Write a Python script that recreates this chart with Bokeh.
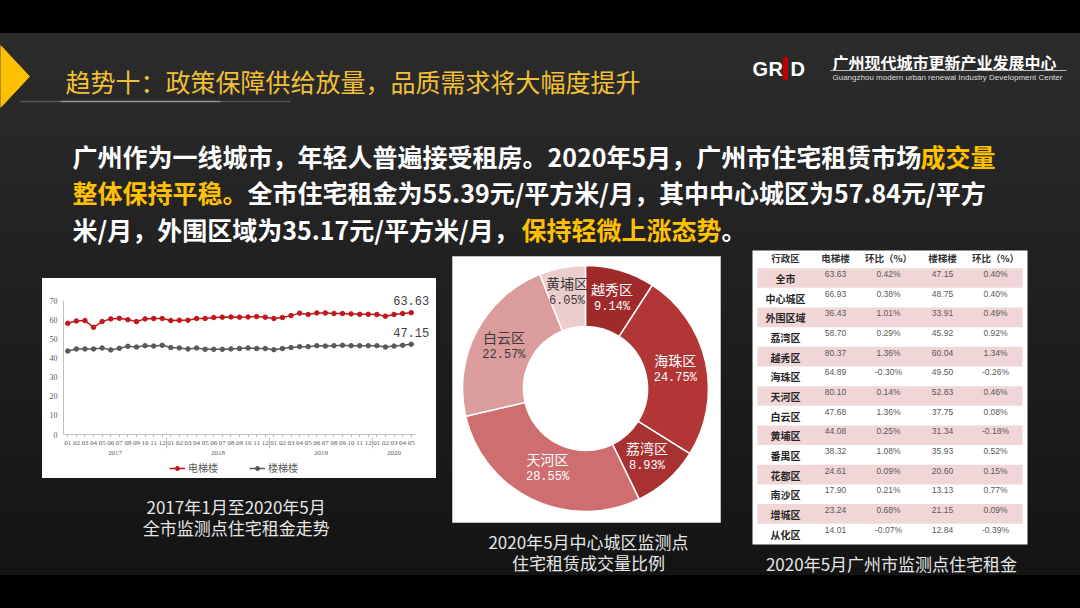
import math
from bokeh.plotting import figure
from bokeh.models import (Range1d, FactorRange, ColumnDataSource, FixedTicker,
                          Legend, LegendItem)
from bokeh.layouts import column, row
from bokeh.core.properties import value
from bokeh.embed import file_html
from bokeh.resources import INLINE

CJK = "Noto Sans CJK SC"

# ---------------- data ----------------
title = "趋势十：政策保障供给放量，品质需求将大幅度提升"
logo_cn = "广州现代城市更新产业发展中心"
logo_en = "Guangzhou modern urban renewal Industry Development Center"

para_segments = [
    ("广州作为一线城市，年轻人普遍接受租房。2020年5月，广州市住宅租赁市场", False),
    ("成交量", True),
    ("整体保持平稳。", True),
    ("全市住宅租金为55.39元/平方米/月，其中中心城区为57.84元/平方", False),
    ("米/月，外围区域为35.17元/平方米/月，", False),
    ("保持轻微上涨态势", True),
    ("。", False),
]

years = ["2017", "2018", "2019", "2020"]
months_per_year = [12, 12, 12, 5]
month_labels = ["01", "02", "03", "04", "05", "06", "07", "08", "09", "10", "11", "12"]
elevator = [58.1, 59.3, 59.5, 56.0, 59.0, 60.4, 60.7, 60.0, 59.0, 60.4, 60.6, 60.6,
            59.5, 59.7, 59.7, 60.6, 60.6, 61.1, 61.3, 61.4, 61.3, 61.4, 61.6, 61.3,
            60.6, 61.1, 62.1, 63.4, 62.7, 63.5, 63.5, 63.2, 63.2, 63.0, 62.8, 62.8,
            62.7, 61.8, 62.7, 63.2, 63.63]
stairs = [43.6, 44.7, 44.7, 44.7, 45.2, 44.2, 45.0, 46.1, 45.7, 46.4, 46.2, 46.6,
          45.4, 45.2, 44.7, 45.2, 44.5, 44.5, 44.5, 44.7, 44.9, 45.2, 44.9, 44.9,
          44.3, 44.9, 45.4, 45.9, 45.9, 46.4, 46.2, 46.4, 46.6, 46.4, 46.4, 46.4,
          46.4, 45.7, 46.2, 46.6, 47.15]
y_ticks = [0, 10, 20, 30, 40, 50, 60, 70]
series_names = ["电梯楼", "楼梯楼"]
line_caption = ["2017年1月至2020年5月", "全市监测点住宅租金走势"]

donut_names = ["越秀区", "海珠区", "荔湾区", "天河区", "白云区", "黄埔区"]
donut_shares = [9.14, 24.75, 8.93, 28.55, 22.57, 6.05]
donut_caption = ["2020年5月中心城区监测点", "住宅租赁成交量比例"]

table_header = ["行政区", "电梯楼", "环比（%）", "楼梯楼", "环比（%）"]
districts = ["全市", "中心城区", "外围区域", "荔湾区", "越秀区", "海珠区", "天河区",
             "白云区", "黄埔区", "番禺区", "花都区", "南沙区", "增城区", "从化区"]
elev_price = [63.63, 66.93, 36.43, 58.70, 80.37, 64.89, 80.10, 47.68, 44.08, 38.32,
              24.61, 17.90, 23.24, 14.01]
elev_mom = [0.42, 0.38, 1.01, 0.29, 1.36, -0.30, 0.14, 1.36, 0.25, 1.08, 0.09, 0.21,
            0.68, -0.07]
stair_price = [47.15, 48.75, 33.91, 45.92, 60.04, 49.50, 52.83, 37.75, 31.34, 35.93,
               20.60, 13.13, 21.15, 12.84]
stair_mom = [0.40, 0.40, 0.49, 0.92, 1.34, -0.26, 0.46, 0.08, -0.18, 0.52, 0.15, 0.77,
             0.09, -0.39]
table_caption = "2020年5月广州市监测点住宅租金"

# ---------------- styles ----------------
YELLOW = "#FFC000"
GOLD = "#F2C037"
RED = "#C0161C"
GREY = "#595959"
donut_colors = ["#9E2A2B", "#B23636", "#A83232", "#CF6E70", "#DA9C9D", "#EBCDCD"]
donut_label_colors = ["white", "white", "white", "white", "#3a3a3a", "#3a3a3a"]
donut_label_radius = [94, 92, 92, 88, 92, 98]
PINK = "#F0D6D7"


def screen_fig(w, h, xr, yr):
    p = figure(width=w, height=h, x_range=Range1d(*xr), y_range=Range1d(*yr),
               output_backend="svg", toolbar_location=None, min_border=0,
               x_axis_location=None, y_axis_location=None)
    p.grid.visible = False
    p.outline_line_color = None
    p.background_fill_color = None
    p.border_fill_color = None
    return p


def txt(p, x, y, s, size, color, align="left", baseline="middle", font=CJK,
        style="normal", alpha=1.0, angle=0.0):
    src = ColumnDataSource(dict(x=[x], y=[y], t=[s]))
    p.text(x="x", y="y", text="t", source=src, text_font=value(font),
           text_font_size=f"{size}px", text_color=color, text_align=align,
           text_baseline=baseline, text_font_style=style, text_alpha=alpha,
           angle=angle)


# ---------------- header ----------------
H = screen_fig(1080, 250, (0, 1080), (250, 0))
H.patch([0, 29, 0], [45, 76, 107], color=YELLOW)
txt(H, 65, 80, title, 25, GOLD)
H.segment(x0=[20, 60, 130, 220], y0=[101] * 4, x1=[60, 130, 220, 290], y1=[101] * 4,
          line_color="#b0b0b0", line_width=1.5, line_alpha=[0.35, 0.8, 0.8, 0.3])

# logo
txt(H, 752, 68, "G", 20, "white", font="Liberation Sans", style="bold")
txt(H, 768, 68, "R", 20, "white", font="Liberation Sans", style="bold")
H.quad(left=[783], right=[787], top=[57], bottom=[79], color="#C00000")
txt(H, 790, 68, "D", 20, "white", font="Liberation Sans", style="bold")
txt(H, 832, 61, logo_cn, 16, "white", style="bold")
H.line([830, 1066], [70, 70], line_color="#bbbbbb", line_width=1)
txt(H, 832, 77, logo_en, 8, "#dddddd", font="Liberation Sans")

# paragraph
para_pos = [(72, 155), (920, 155), (72, 191), (247, 191), (72, 228), (521, 228), (721, 228)]
for (s, hl), (x, y) in zip(para_segments, para_pos):
    txt(H, x, y, s, 25, YELLOW if hl else "white", style="bold")

# ---------------- line chart ----------------
factors = [(y, m) for y, n in zip(years, months_per_year) for m in month_labels[:n]]
xr = FactorRange(factors=factors, factor_padding=0, group_padding=0,
                 subgroup_padding=0, range_padding=0)
L1 = figure(width=394, height=182, x_range=xr, y_range=Range1d(0, 70),
            output_backend="svg", toolbar_location=None,
            min_border_left=21, min_border_right=21, min_border_top=22,
            min_border_bottom=26, margin=(28, 9, 0, 42))
L1.border_fill_color = None
L1.background_fill_color = None
L1.outline_line_color = None
L1.grid.visible = False

lsrc = ColumnDataSource(dict(x=factors, e=elevator, s=stairs))
r1 = L1.line("x", "e", source=lsrc, line_color=RED, line_width=1.5)
r1m = L1.scatter("x", "e", source=lsrc, size=4.5, color=RED)
r2 = L1.line("x", "s", source=lsrc, line_color=GREY, line_width=1.5)
r2m = L1.scatter("x", "s", source=lsrc, size=4.5, color=GREY)

lab_src = ColumnDataSource(dict(x=[factors[-1], factors[-1]],
                                y=[elevator[-1], stairs[-1]],
                                t=[f"{elevator[-1]:.2f}", f"{stairs[-1]:.2f}"]))
L1.text(x="x", y="y", text="t", source=lab_src, y_offset=-12, text_align="center",
        text_baseline="middle", text_font=value("Liberation Mono"),
        text_font_size="12px", text_color="#404040", level="overlay")

ya = L1.yaxis[0]
ya.ticker = FixedTicker(ticks=y_ticks)
ya.major_label_text_font_size = "8px"
ya.major_label_text_font = "Liberation Serif"
ya.major_label_text_color = GREY
ya.major_tick_out = 0
ya.major_tick_in = 0
ya.minor_tick_out = 0
ya.minor_tick_in = 0
ya.major_label_standoff = 6
ya.axis_line_color = "#BFBFBF"

xa = L1.xaxis[0]
xa.major_label_text_font_size = "7px"
xa.major_label_text_font = "Liberation Serif"
xa.major_label_text_color = GREY
xa.group_text_font_size = "7px"
xa.group_text_font = "Liberation Serif"
xa.group_text_font_style = "normal"
xa.group_text_color = GREY
xa.axis_line_color = "#BFBFBF"
xa.major_tick_line_color = "#BFBFBF"
xa.major_tick_in = 0
xa.major_tick_out = 3
xa.major_label_standoff = 3
xa.separator_line_color = "#BFBFBF"
xa.separator_line_width = 1

# caption panel below the chart (legend of the chart + caption)
Lc = screen_fig(445, 148, (0, 445), (0, 148))


def ly_(v):
    return 608 - v


# legend proxies (kept outside the visible range; they only give the legend its keys)
k1 = Lc.line(x=[-100, -90], y=[-100, -100], line_color=RED, line_width=1.5)
k1m = Lc.scatter(x=[-100], y=[-100], size=4.5, color=RED)
k2 = Lc.line(x=[-100, -90], y=[-100, -100], line_color=GREY, line_width=1.5)
k2m = Lc.scatter(x=[-100], y=[-100], size=4.5, color=GREY)
legend = Legend(items=[LegendItem(label=series_names[0], renderers=[k1, k1m]),
                       LegendItem(label=series_names[1], renderers=[k2, k2m])],
                orientation="horizontal", location=(148, ly_(475)),
                border_line_color=None, background_fill_alpha=0,
                label_text_font=CJK, label_text_font_size="10px",
                label_text_color=GREY, glyph_width=16, glyph_height=10,
                spacing=31, padding=0, margin=0, label_standoff=3,
                label_height=10)
Lc.add_layout(legend)
txt(Lc, 237, ly_(506), line_caption[0], 17, "#E6E6E6", align="center")
txt(Lc, 237, ly_(527), line_caption[1], 17, "#E6E6E6", align="center")

# ---------------- right part: donut + table ----------------
R = screen_fig(635, 358, (445, 1080), (0, 358))


def ry(v):
    return 608 - v


# donut box
R.rect(x=[586], y=[ry(389)], width=268, height=266, fill_color="white",
       line_color="#BFBFBF", line_width=1)
cx, cy = 585, ry(388)
r_in, r_out = 62, 123
starts, ends, lx, ly = [], [], [], []
cum = 0.0
for s, rl in zip(donut_shares, donut_label_radius):
    a0 = math.pi / 2 - 2 * math.pi * (cum + s) / 100
    a1 = math.pi / 2 - 2 * math.pi * cum / 100
    starts.append(a0)
    ends.append(a1)
    mid = (a0 + a1) / 2
    lx.append(cx + rl * math.cos(mid))
    ly.append(cy + rl * math.sin(mid))
    cum += s
n = len(donut_shares)
dsrc = ColumnDataSource(dict(x=[cx] * n, y=[cy] * n, s=starts, e=ends, c=donut_colors))
R.annular_wedge(x="x", y="y", inner_radius=r_in, outer_radius=r_out,
                start_angle="s", end_angle="e", fill_color="c", line_color="white",
                line_width=1.5, source=dsrc)
name_src = ColumnDataSource(dict(x=lx, y=[v + 9 for v in ly], t=donut_names,
                                 c=donut_label_colors))
R.text(x="x", y="y", text="t", source=name_src, text_align="center",
       text_baseline="middle", text_font=value(CJK), text_font_size="14px",
       text_color="c")
pct_src = ColumnDataSource(dict(x=lx, y=[v - 9 for v in ly],
                                t=[f"{s:.2f}%" for s in donut_shares],
                                c=donut_label_colors))
R.text(x="x", y="y", text="t", source=pct_src, text_align="center",
       text_baseline="middle", text_font=value("Liberation Mono"),
       text_font_size="12px", text_color="c")
txt(R, 588, ry(541), donut_caption[0], 17, "#E6E6E6", align="center")
txt(R, 588, ry(562), donut_caption[1], 17, "#E6E6E6", align="center")

# table
R.rect(x=[889.5], y=[ry(394)], width=275, height=300, fill_color="white",
       line_color=None)
R.line([757, 1022], [ry(247), ry(247)], line_color="#A6A6A6", line_width=1)
row0, row_h = 277.5, 19.66
nrow = len(districts)
row_y = [row0 + row_h * i for i in range(nrow)]
band_y = [ry(v) for i, v in enumerate(row_y) if i % 2 == 0]
R.rect(x=[889.5] * len(band_y), y=band_y, width=265, height=row_h,
       fill_color=PINK, line_color=None)
col_x = [785, 835, 888, 942, 995]
hsrc = ColumnDataSource(dict(x=col_x, y=[ry(257)] * 5, t=table_header))
R.text(x="x", y="y", text="t", source=hsrc, text_align="center",
       text_baseline="middle", text_font=value(CJK), text_font_size="9.5px",
       text_font_style="bold", text_color="#333333")
dsrc2 = ColumnDataSource(dict(x=[col_x[0]] * nrow, y=[ry(v + 0.5) for v in row_y],
                              t=districts))
R.text(x="x", y="y", text="t", source=dsrc2, text_align="center",
       text_baseline="middle", text_font=value(CJK), text_font_size="10px",
       text_font_style="bold", text_color="#262626")
cols = [[f"{v:.2f}" for v in elev_price], [f"{v:.2f}%" for v in elev_mom],
        [f"{v:.2f}" for v in stair_price], [f"{v:.2f}%" for v in stair_mom]]
for cxx, vals in zip(col_x[1:], cols):
    vs = ColumnDataSource(dict(x=[cxx] * nrow, y=[ry(v - 4) for v in row_y], t=vals))
    R.text(x="x", y="y", text="t", source=vs, text_align="center",
           text_baseline="middle", text_font=value("Liberation Sans"),
           text_font_size="8.5px", text_color="#595959")
txt(R, 891, ry(563), table_caption, 17, "#E6E6E6", align="center")

# ---------------- layout ----------------
# white card behind the line chart (spans chart figure and legend strip)
left = column(L1, Lc, spacing=0, styles={
    "background": "linear-gradient(#ffffff, #ffffff) 42px 28px / 394px 200px no-repeat"})
bottom = row(left, R, spacing=0)
root = column(H, bottom, spacing=0, styles={
    "background": "linear-gradient(to bottom, #000 0px, #000 33px, #2c2c2c 33px, "
                  "#212121 260px, #141414 575px, #000 575px, #000 608px)"})

html = file_html(root, INLINE, title="chart")
html = html.replace("<head>", "<head><style>html,body{background:#000;}</style>", 1)
open("out.html", "w").write(html)
